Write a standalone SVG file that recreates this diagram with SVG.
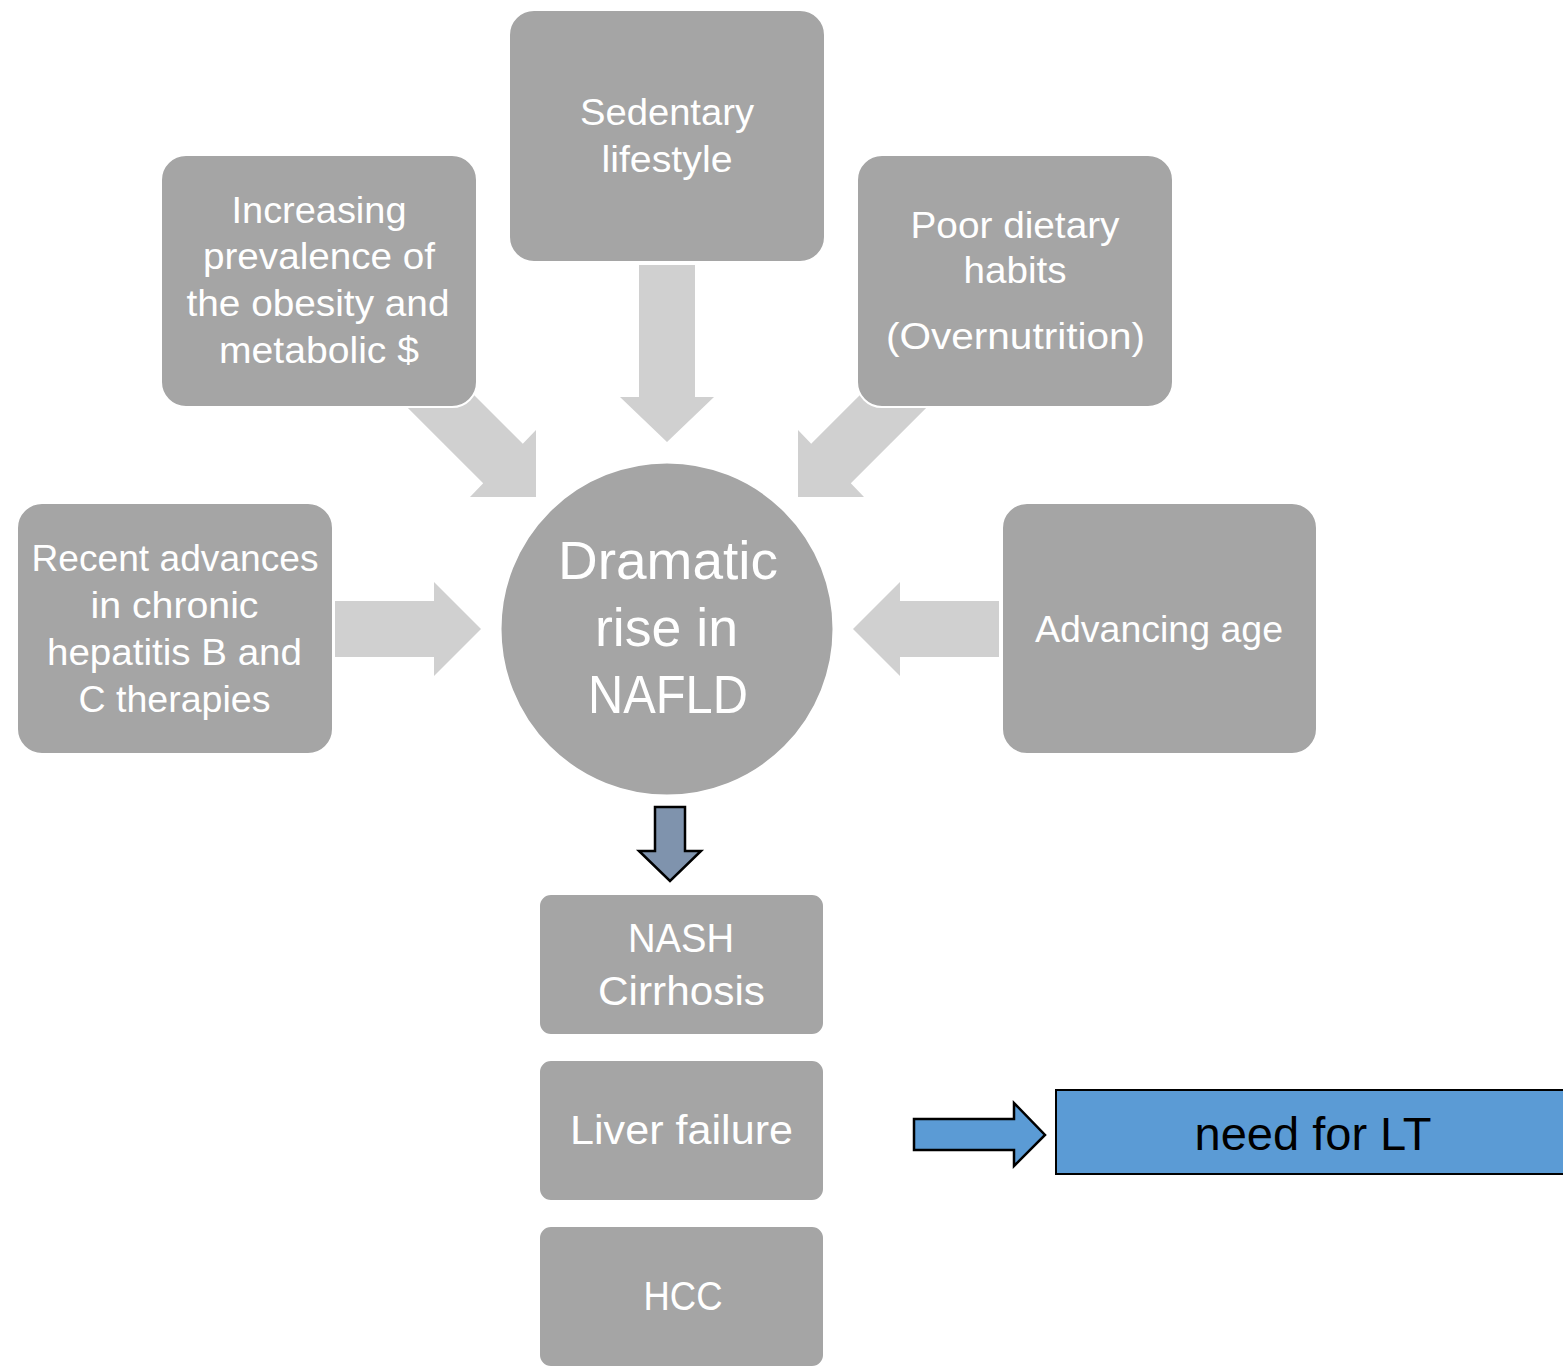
<svg xmlns="http://www.w3.org/2000/svg" width="1563" height="1369" viewBox="0 0 1563 1369">
  <style>
    .box { fill: #a5a5a5; stroke: #ffffff; stroke-width: 2; }
    .flow { fill: #d0d0d0; stroke: none; }
    .t { font-family: "Liberation Sans", Arial, sans-serif; fill: #ffffff; text-anchor: middle; }
    .s36 { font-size: 36px; }
    .s54 { font-size: 54px; }
    .s41 { font-size: 41px; }
    .lt { font-family: "Liberation Sans", Arial, sans-serif; font-size: 46px; fill: #000000; text-anchor: middle; }
  </style>
  <rect width="1563" height="1369" fill="#ffffff"/>

  <g id="connectors">
    <!-- top-left diagonal -->
    <polygon class="flow" points="389.9,390 429.5,350.4 522.8,443.7 536,430 536,497 470,497 483.2,483.3"/>
    <!-- top-right diagonal -->
    <polygon class="flow" points="944.1,390 904.5,350.4 811.2,443.7 798,430 798,497 864,497 850.8,483.3"/>
    <!-- top down -->
    <polygon class="flow" points="639,265 695,265 695,397 714,397 667,442 620,397 639,397"/>
    <!-- left horizontal -->
    <polygon class="flow" points="335,601 434,601 434,582 481,629 434,676 434,657 335,657"/>
    <!-- right horizontal -->
    <polygon class="flow" points="999,601 900,601 900,582 853,629 900,676 900,657 999,657"/>
    <!-- dark down arrow -->
    <polygon points="655,807 685,807 685,851 701,851 670,881 639,851 655,851" fill="#7f93ad" stroke="#000000" stroke-width="2.5" stroke-linejoin="miter"/>
    <!-- blue right arrow -->
    <polygon points="914,1119 1014,1119 1014,1103 1045,1135 1014,1166 1014,1150 914,1150" fill="#5b9bd5" stroke="#000000" stroke-width="2.5" stroke-linejoin="miter"/>
  </g>

  <g id="node-obesity">
    <rect class="box" x="161" y="155" width="316" height="252" rx="25"/>
    <text class="t s36" x="319" y="223" textLength="175" lengthAdjust="spacingAndGlyphs">Increasing</text>
    <text class="t s36" x="319" y="269" textLength="232" lengthAdjust="spacingAndGlyphs">prevalence of</text>
    <text class="t s36" x="318" y="316" textLength="263" lengthAdjust="spacingAndGlyphs">the obesity and</text>
    <text class="t s36" x="319" y="363" textLength="200" lengthAdjust="spacingAndGlyphs">metabolic $</text>
  </g>

  <g id="node-sedentary">
    <rect class="box" x="509" y="10" width="316" height="252" rx="25"/>
    <text class="t s36" x="667" y="125" textLength="174" lengthAdjust="spacingAndGlyphs">Sedentary</text>
    <text class="t s36" x="667" y="171.5" textLength="131" lengthAdjust="spacingAndGlyphs">lifestyle</text>
  </g>

  <g id="node-dietary">
    <rect class="box" x="857" y="155" width="316" height="252" rx="25"/>
    <text class="t s36" x="1015" y="237.5" textLength="209" lengthAdjust="spacingAndGlyphs">Poor dietary</text>
    <text class="t s36" x="1015" y="283" textLength="103" lengthAdjust="spacingAndGlyphs">habits</text>
    <text class="t s36" x="1015.5" y="349" textLength="259" lengthAdjust="spacingAndGlyphs">(Overnutrition)</text>
  </g>

  <g id="node-hepatitis">
    <rect class="box" x="17" y="503" width="316" height="251" rx="25"/>
    <text class="t s36" x="175" y="571" textLength="287" lengthAdjust="spacingAndGlyphs">Recent advances</text>
    <text class="t s36" x="174.5" y="617.5" textLength="168" lengthAdjust="spacingAndGlyphs">in chronic</text>
    <text class="t s36" x="174.5" y="665" textLength="255" lengthAdjust="spacingAndGlyphs">hepatitis B and</text>
    <text class="t s36" x="174.5" y="711.5" textLength="192" lengthAdjust="spacingAndGlyphs">C therapies</text>
  </g>

  <g id="node-age">
    <rect class="box" x="1002" y="503" width="315" height="251" rx="25"/>
    <text class="t s36" x="1159" y="641.5" textLength="248" lengthAdjust="spacingAndGlyphs">Advancing age</text>
  </g>

  <g id="node-nafld">
    <circle cx="667" cy="629" r="166.5" fill="#a5a5a5" stroke="#ffffff" stroke-width="2"/>
    <text class="t s54" x="668" y="578.5" textLength="220" lengthAdjust="spacingAndGlyphs">Dramatic</text>
    <text class="t s54" x="666.5" y="646" textLength="143" lengthAdjust="spacingAndGlyphs">rise in</text>
    <text class="t s54" x="668" y="713" textLength="160" lengthAdjust="spacingAndGlyphs">NAFLD</text>
  </g>

  <g id="node-nash">
    <rect class="box" x="539" y="894" width="285" height="141" rx="12"/>
    <text class="t s41" x="681" y="951.5" textLength="106" lengthAdjust="spacingAndGlyphs">NASH</text>
    <text class="t s41" x="681.5" y="1004.5" textLength="167" lengthAdjust="spacingAndGlyphs">Cirrhosis</text>
  </g>

  <g id="node-liver-failure">
    <rect class="box" x="539" y="1060" width="285" height="141" rx="12"/>
    <text class="t s41" x="681.5" y="1143.5" textLength="223" lengthAdjust="spacingAndGlyphs">Liver failure</text>
  </g>

  <g id="node-hcc">
    <rect class="box" x="539" y="1226" width="285" height="141" rx="12"/>
    <text class="t s41" x="683" y="1310" textLength="79" lengthAdjust="spacingAndGlyphs">HCC</text>
  </g>

  <g id="node-lt">
    <rect x="1056" y="1090" width="520" height="84" fill="#5b9bd5" stroke="#000000" stroke-width="2"/>
    <text class="lt" x="1313" y="1150" textLength="237" lengthAdjust="spacingAndGlyphs">need for LT</text>
  </g>
</svg>
